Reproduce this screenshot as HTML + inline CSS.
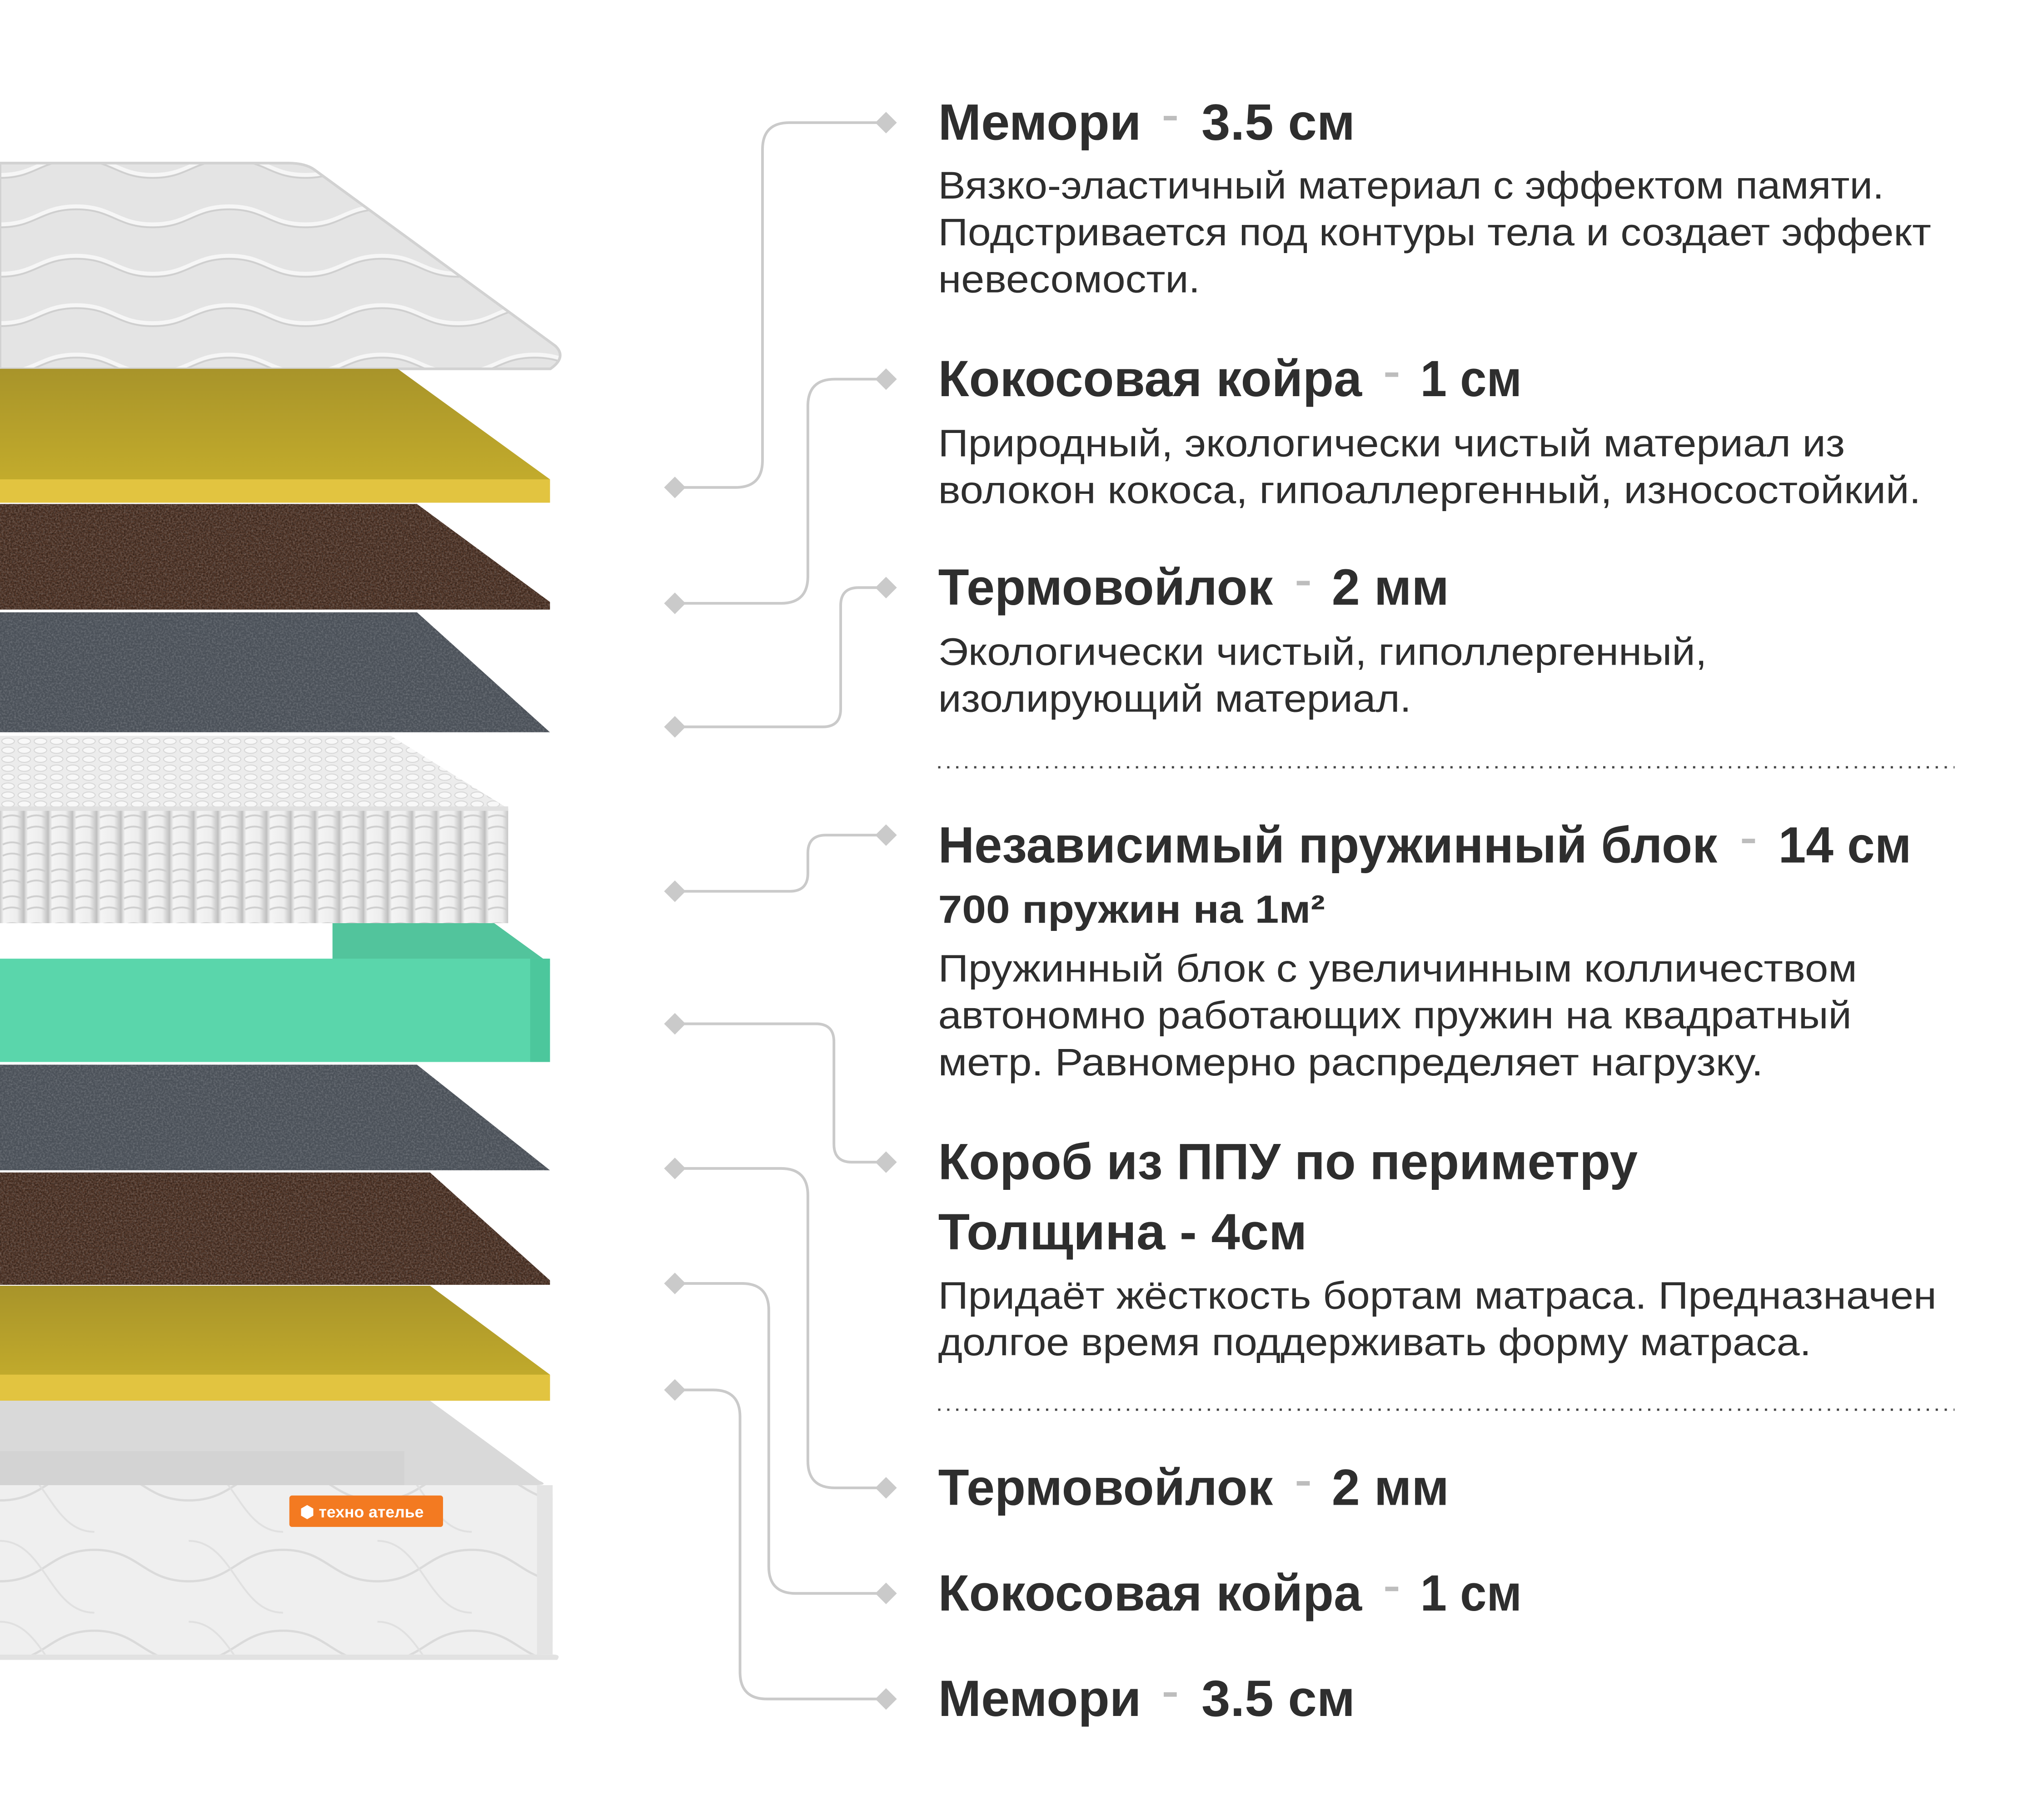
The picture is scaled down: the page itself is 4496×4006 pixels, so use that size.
<!DOCTYPE html>
<html><head><meta charset="utf-8">
<style>
html,body{margin:0;padding:0;background:#fff;}
svg{display:block;}
text{font-family:"Liberation Sans",sans-serif;fill:#2e2e2e;}
.t{font-size:114px;font-weight:bold;}
.s{font-size:87px;font-weight:bold;}
.b{font-size:85px;}
</style></head>
<body>
<svg width="4496" height="4006" viewBox="0 0 4496 4006" xmlns="http://www.w3.org/2000/svg">
<defs>
<linearGradient id="yTop" x1="0" y1="0" x2="0" y2="1"><stop offset="0" stop-color="#a8942a"/><stop offset="1" stop-color="#c8b02c"/></linearGradient>
<linearGradient id="col" x1="0" y1="0" x2="1" y2="0"><stop offset="0" stop-color="#c9c9c9"/><stop offset="0.15" stop-color="#f4f4f4"/><stop offset="0.7" stop-color="#ededed"/><stop offset="1" stop-color="#bdbdbd"/></linearGradient>
<pattern id="cols" x="0" y="0" width="54" height="60" patternUnits="userSpaceOnUse">
<rect width="54" height="60" fill="url(#col)"/>
<path d="M6 20 Q27 10 48 20 M6 45 Q27 35 48 45" stroke="#cfcfcf" stroke-width="4" fill="none"/>
</pattern>
<pattern id="bumps" x="0" y="0" width="36" height="20" patternUnits="userSpaceOnUse">
<rect width="36" height="20" fill="#ececec"/><ellipse cx="18" cy="10" rx="14" ry="7" fill="#f8f8f8" stroke="#d6d6d6" stroke-width="2"/>
</pattern>
<pattern id="quilt" x="0" y="0" width="340" height="110" patternUnits="userSpaceOnUse">
<rect width="340" height="110" fill="#e4e4e4"/>
<path d="M0 60 C80 60 90 20 170 20 C250 20 260 60 340 60" stroke="#f6f6f6" stroke-width="10" fill="none"/>
<path d="M0 66 C80 66 90 26 170 26 C250 26 260 66 340 66" stroke="#cfcfcf" stroke-width="4" fill="none"/>
</pattern>
<pattern id="quilt2" x="0" y="0" width="420" height="180" patternUnits="userSpaceOnUse">
<rect width="420" height="180" fill="#efefef"/>
<path d="M0 100 C100 100 110 30 210 30 C310 30 320 100 420 100" stroke="#dadada" stroke-width="5" fill="none"/>
<path d="M0 10 C100 10 110 170 210 170" stroke="#e0e0e0" stroke-width="4" fill="none"/>
</pattern>
<filter id="noise" x="0" y="0" width="100%" height="100%">
<feTurbulence type="fractalNoise" baseFrequency="0.25" numOctaves="2" seed="3" result="n"/>
<feColorMatrix in="n" type="matrix" values="0 0 0 0 1  0 0 0 0 1  0 0 0 0 1  0 0 0 1.2 -0.45" result="m"/>
<feComposite in="m" in2="SourceGraphic" operator="in"/>
</filter>
<filter id="noiseD" x="0" y="0" width="100%" height="100%">
<feTurbulence type="fractalNoise" baseFrequency="0.3" numOctaves="2" seed="7" result="n"/>
<feColorMatrix in="n" type="matrix" values="0 0 0 0 0  0 0 0 0 0  0 0 0 0 0  0 0 0 1.4 -0.5" result="m"/>
<feComposite in="m" in2="SourceGraphic" operator="in"/>
</filter>
</defs>
<g transform="scale(0.9888)">
<path d="M0 363 H640 Q680 363 700 378 L1236 770 Q1262 795 1225 821 H0 Z" fill="url(#quilt)"/>
<path d="M0 363 H640 Q680 363 700 378 L1236 770 Q1262 795 1225 821 H0 Z" fill="none" stroke="#d2d2d2" stroke-width="6"/>

<path d="M0 821 H885 L1224 1067 V1119 H0 Z" fill="url(#yTop)"/>
<rect x="0" y="1067" width="1224" height="52" fill="#e2c440"/>

<path d="M0 1122 H928 L1224 1340 V1357 H0 Z" fill="#523628"/>
<path d="M0 1122 H928 L1224 1340 V1357 H0 Z" fill="#000" filter="url(#noiseD)" opacity="0.6"/>
<path d="M0 1122 H928 L1224 1340 V1357 H0 Z" fill="#a06040" filter="url(#noise)" opacity="0.35"/>

<path d="M0 1363 H928 L1224 1630 H0 Z" fill="#4b5159"/>
<path d="M0 1363 H928 L1224 1630 H0 Z" fill="#fff" filter="url(#noise)" opacity="0.3"/>

<path d="M0 1638 H870 L1131 1800 V1812 H0 Z" fill="url(#bumps)"/>
<rect x="0" y="1800" width="1131" height="255" fill="url(#cols)"/>
<rect x="0" y="1795" width="1131" height="10" fill="#e0e0e0"/>

<path d="M740 2055 H1100 L1224 2145 V2150 H740 Z" fill="#52c49c"/>
<rect x="0" y="2134" width="1224" height="230" fill="#5ad6ab"/>
<rect x="1180" y="2134" width="44" height="230" fill="#4cc79c"/>

<path d="M0 2370 H928 L1224 2605 H0 Z" fill="#4b5159"/>
<path d="M0 2370 H928 L1224 2605 H0 Z" fill="#fff" filter="url(#noise)" opacity="0.3"/>

<path d="M0 2610 H957 L1224 2850 V2860 H0 Z" fill="#523628"/>
<path d="M0 2610 H957 L1224 2850 V2860 H0 Z" fill="#000" filter="url(#noiseD)" opacity="0.6"/>
<path d="M0 2610 H957 L1224 2850 V2860 H0 Z" fill="#a06040" filter="url(#noise)" opacity="0.35"/>

<path d="M0 2862 H957 L1224 3060 V3118 H0 Z" fill="url(#yTop)"/>
<rect x="0" y="3060" width="1224" height="58" fill="#e2c440"/>

<path d="M0 3118 H957 L1200 3296 Q1224 3306 1190 3306 H0 Z" fill="#d9d9d9"/>
<rect x="0" y="3230" width="900" height="76" fill="#cfcfcf" opacity="0.6"/>
<path d="M0 3306 H1200 Q1230 3306 1230 3330 V3650 Q1230 3683 1200 3683 H0 Z" fill="url(#quilt2)"/>
<path d="M0 3683 H1230 Q1250 3683 1240 3695 H0 Z" fill="#e2e2e2"/>
<rect x="1195" y="3306" width="35" height="377" fill="#e4e4e4"/>
<rect x="644" y="3329" width="342" height="70" rx="6" fill="#f37a21"/>
<text x="668" y="3378" font-size="36" font-weight="bold" style="fill:#fff">⬢ техно ателье</text>

<g stroke="#cacaca" stroke-width="6" fill="none">
<path d="M1502 1085 H1637 Q1697 1085 1697 1025 V333 Q1697 273 1757 273 H1972"/>
<path d="M1502 1343 H1738 Q1798 1343 1798 1283 V904 Q1798 844 1858 844 H1972"/>
<path d="M1502 1618 H1831 Q1871 1618 1871 1578 V1348 Q1871 1308 1911 1308 H1972"/>
<path d="M1502 1984 H1758 Q1798 1984 1798 1944 V1899 Q1798 1859 1838 1859 H1972"/>
<path d="M1502 2279 H1816 Q1856 2279 1856 2319 V2547 Q1856 2587 1896 2587 H1972"/>
<path d="M1502 2601 H1738 Q1798 2601 1798 2661 V3252 Q1798 3312 1858 3312 H1972"/>
<path d="M1502 2857 H1651 Q1711 2857 1711 2917 V3487 Q1711 3547 1771 3547 H1972"/>
<path d="M1502 3094 H1587 Q1647 3094 1647 3154 V3722 Q1647 3782 1707 3782 H1972"/>
</g>
<g fill="#cacaca">
<path d="M1502 1061 L1526 1085 L1502 1109 L1478 1085Z"/><path d="M1972 249 L1996 273 L1972 297 L1948 273Z"/>
<path d="M1502 1319 L1526 1343 L1502 1367 L1478 1343Z"/><path d="M1972 820 L1996 844 L1972 868 L1948 844Z"/>
<path d="M1502 1594 L1526 1618 L1502 1642 L1478 1618Z"/><path d="M1972 1284 L1996 1308 L1972 1332 L1948 1308Z"/>
<path d="M1502 1960 L1526 1984 L1502 2008 L1478 1984Z"/><path d="M1972 1835 L1996 1859 L1972 1883 L1948 1859Z"/>
<path d="M1502 2255 L1526 2279 L1502 2303 L1478 2279Z"/><path d="M1972 2563 L1996 2587 L1972 2611 L1948 2587Z"/>
<path d="M1502 2577 L1526 2601 L1502 2625 L1478 2601Z"/><path d="M1972 3288 L1996 3312 L1972 3336 L1948 3312Z"/>
<path d="M1502 2833 L1526 2857 L1502 2881 L1478 2857Z"/><path d="M1972 3523 L1996 3547 L1972 3571 L1948 3547Z"/>
<path d="M1502 3070 L1526 3094 L1502 3118 L1478 3094Z"/><path d="M1972 3758 L1996 3782 L1972 3806 L1948 3782Z"/>
</g>

<g fill="#bdbdbd">
<rect x="2590" y="258" width="29" height="10"/>
<rect x="3083" y="829" width="29" height="10"/>
<rect x="2886" y="1293" width="29" height="10"/>
<rect x="3877" y="1867" width="29" height="10"/>
<rect x="2886" y="3297" width="29" height="10"/>
<rect x="3083" y="3532" width="29" height="10"/>
<rect x="2590" y="3767" width="29" height="10"/>
</g>

<text class="t" x="2088" y="311" textLength="452" lengthAdjust="spacingAndGlyphs">Мемори</text>
<text class="t" x="2674" y="311" textLength="342" lengthAdjust="spacingAndGlyphs">3.5 см</text>
<text class="t" x="2088" y="882" textLength="943" lengthAdjust="spacingAndGlyphs">Кокосовая койра</text>
<text class="t" x="3161" y="882" textLength="226" lengthAdjust="spacingAndGlyphs">1 см</text>
<text class="t" x="2088" y="1346" textLength="745" lengthAdjust="spacingAndGlyphs">Термовойлок</text>
<text class="t" x="2964" y="1346" textLength="261" lengthAdjust="spacingAndGlyphs">2 мм</text>
<text class="t" x="2088" y="1920" textLength="1734" lengthAdjust="spacingAndGlyphs">Независимый пружинный блок</text>
<text class="t" x="3958" y="1920" textLength="296" lengthAdjust="spacingAndGlyphs">14 см</text>
<text class="s" x="2088" y="2054" textLength="861" lengthAdjust="spacingAndGlyphs">700 пружин на 1м²</text>
<text class="t" x="2088" y="2625" textLength="1557" lengthAdjust="spacingAndGlyphs">Короб из ППУ по периметру</text>
<text class="t" x="2088" y="2781" textLength="821" lengthAdjust="spacingAndGlyphs">Толщина - 4см</text>
<text class="t" x="2088" y="3350" textLength="745" lengthAdjust="spacingAndGlyphs">Термовойлок</text>
<text class="t" x="2964" y="3350" textLength="261" lengthAdjust="spacingAndGlyphs">2 мм</text>
<text class="t" x="2088" y="3585" textLength="943" lengthAdjust="spacingAndGlyphs">Кокосовая койра</text>
<text class="t" x="3161" y="3585" textLength="226" lengthAdjust="spacingAndGlyphs">1 см</text>
<text class="t" x="2088" y="3820" textLength="452" lengthAdjust="spacingAndGlyphs">Мемори</text>
<text class="t" x="2674" y="3820" textLength="342" lengthAdjust="spacingAndGlyphs">3.5 см</text>

<text class="b" x="2088" y="442" textLength="2105" lengthAdjust="spacingAndGlyphs">Вязко-эластичный материал с эффектом памяти.</text>
<text class="b" x="2088" y="546" textLength="2210" lengthAdjust="spacingAndGlyphs">Подстривается под контуры тела и создает эффект</text>
<text class="b" x="2088" y="651" textLength="583" lengthAdjust="spacingAndGlyphs">невесомости.</text>
<text class="b" x="2088" y="1016" textLength="2018" lengthAdjust="spacingAndGlyphs">Природный, экологически чистый материал из</text>
<text class="b" x="2088" y="1120" textLength="2187" lengthAdjust="spacingAndGlyphs">волокон кокоса, гипоаллергенный, износостойкий.</text>
<text class="b" x="2088" y="1480" textLength="1711" lengthAdjust="spacingAndGlyphs">Экологически чистый, гиполлергенный,</text>
<text class="b" x="2088" y="1584" textLength="1053" lengthAdjust="spacingAndGlyphs">изолирующий материал.</text>
<text class="b" x="2088" y="2185" textLength="2045" lengthAdjust="spacingAndGlyphs">Пружинный блок с увеличинным колличеством</text>
<text class="b" x="2088" y="2289" textLength="2033" lengthAdjust="spacingAndGlyphs">автономно работающих пружин на квадратный</text>
<text class="b" x="2088" y="2394" textLength="1836" lengthAdjust="spacingAndGlyphs">метр. Равномерно распределяет нагрузку.</text>
<text class="b" x="2088" y="2913" textLength="2222" lengthAdjust="spacingAndGlyphs">Придаёт жёсткость бортам матраса. Предназначен</text>
<text class="b" x="2088" y="3017" textLength="1943" lengthAdjust="spacingAndGlyphs">долгое время поддерживать форму матраса.</text>

<line x1="2088" y1="1708" x2="4350" y2="1708" stroke="#444" stroke-width="5" stroke-dasharray="5 15"/>
<line x1="2088" y1="3138" x2="4350" y2="3138" stroke="#444" stroke-width="5" stroke-dasharray="5 15"/>
</g>
</svg>
</body></html>
